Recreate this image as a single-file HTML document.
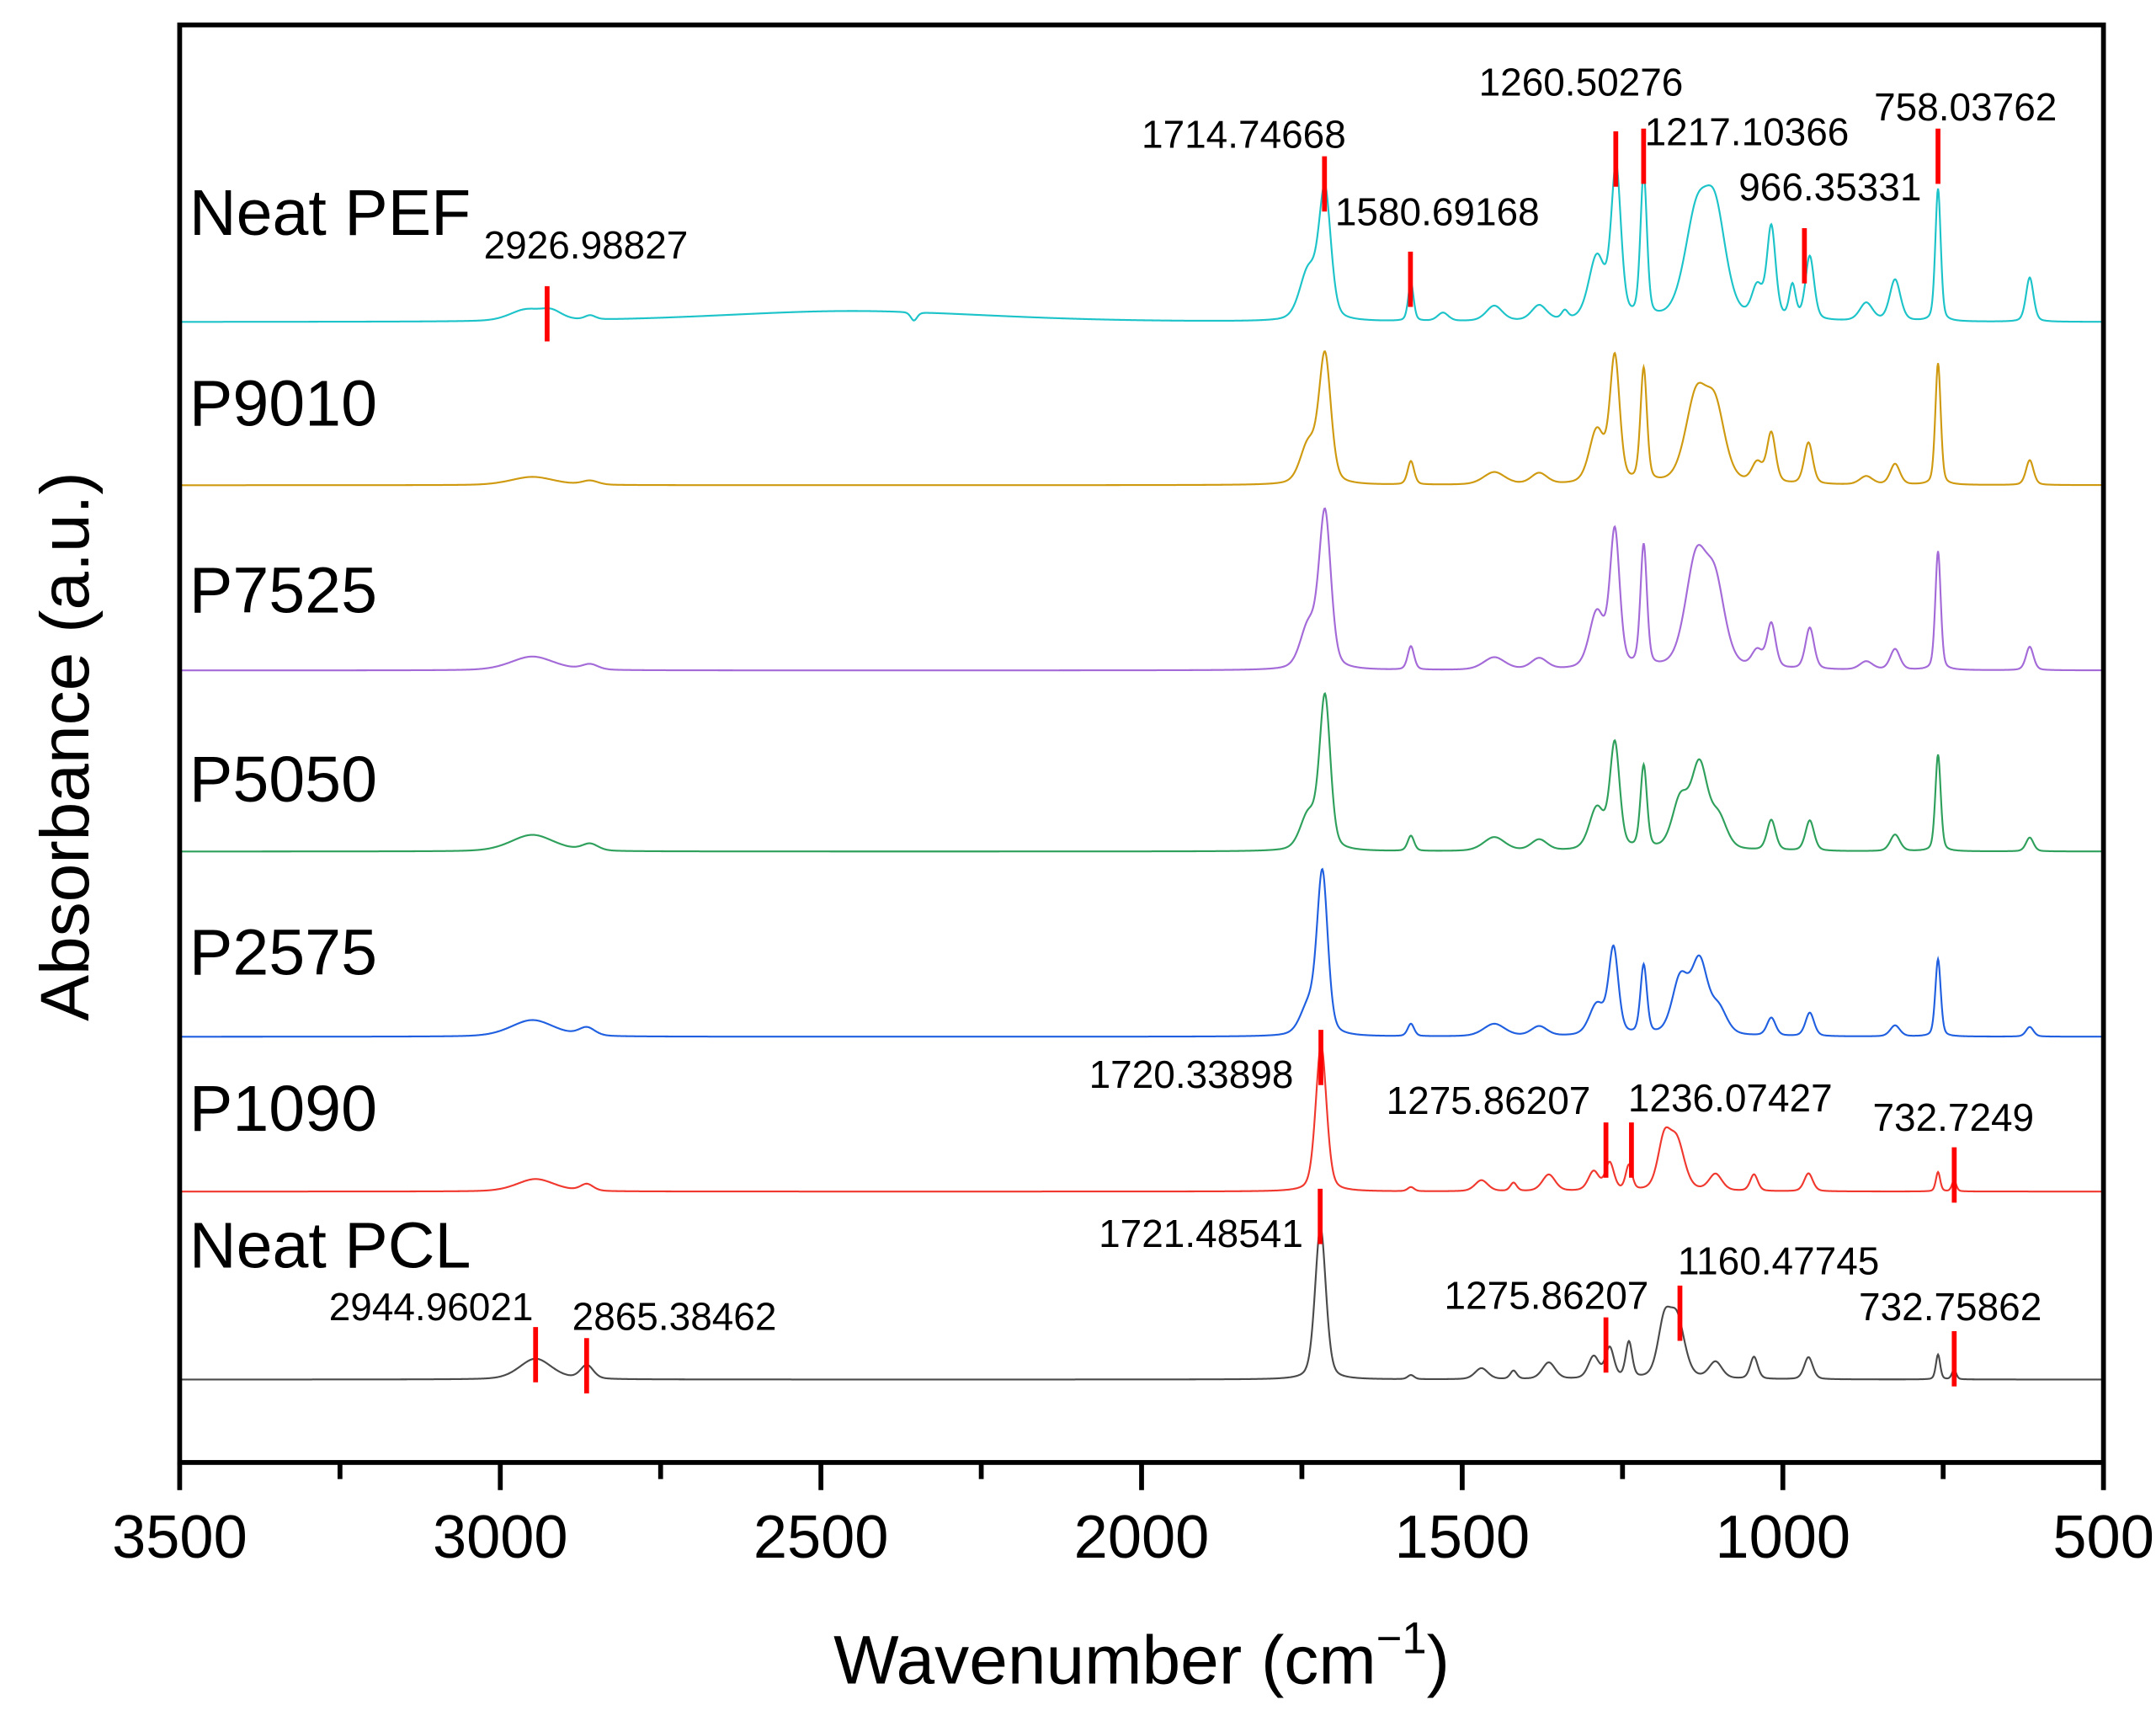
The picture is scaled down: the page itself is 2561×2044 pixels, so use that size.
<!DOCTYPE html>
<html><head><meta charset="utf-8">
<style>
html,body{margin:0;padding:0;background:#fff;}
svg{display:block;}
text{font-family:"Liberation Sans",Arial,sans-serif;fill:#000;}
</style></head>
<body>
<svg id="chart" width="2561" height="2044" viewBox="0 0 1560 1245" xmlns="http://www.w3.org/2000/svg">
<g id="traces"></g>
<g id="markers"></g>
<rect x="130" y="18" width="1392" height="1040" fill="none" stroke="#000" stroke-width="3.5"/>
<g id="xaxis"></g>
<g id="labels"></g>
<text x="826" y="1218" font-size="50" text-anchor="middle">Wavenumber (cm<tspan font-size="32" dy="-22">−1</tspan><tspan dy="22">)</tspan></text>
<text x="0" y="0" font-size="50" text-anchor="middle" transform="translate(64,540) rotate(-90)">Absorbance (a.u.)</text>
</svg>
<script>
const xTicks = [3500, 3000, 2500, 2000, 1500, 1000, 500];
const seriesNames = ["Neat PEF", "P9010", "P7525", "P5050", "P2575", "P1090", "Neat PCL"];
const seriesColors = ["#1cc3c9", "#cf9a10", "#a36ad8", "#2ea05c", "#2060e0", "#f0382e", "#4a4a4a"];
const baselines = [233, 351, 485, 616, 750, 862, 998];
const labelY = [170, 308, 443, 580, 705, 818, 917];

const pefCenters = [2960, 2920, 2860, 2450, 2355, 1740, 1714, 1580, 1530, 1450, 1380, 1340, 1290, 1260, 1217, 1135, 1105, 1040, 1018, 985, 958, 870, 825, 758, 615];
const pefHeights = [8, 6, 3, 8, -6, 35, 92, 28, 6, 11, 11, 6, 45, 108, 104, 72, 70, 22, 66, 24, 46, 13, 30, 96, 32];
const pefWidths = [30, 20, 10, 250, 6, 16, 11, 5, 10, 15, 14, 6, 15, 9, 6, 22, 20, 10, 8, 6, 8, 12, 10, 5, 7];

const p9010Centers = [2950, 2860, 1740, 1714, 1580, 1450, 1380, 1290, 1262, 1217, 1135, 1105, 1040, 1018, 960, 870, 825, 758, 615];
const p9010Heights = [6, 3, 28, 92, 17, 9, 8, 38, 90, 82, 62, 50, 14, 36, 30, 6, 15, 88, 18];
const p9010Widths = [40, 15, 15, 11, 6, 20, 15, 14, 9, 6, 20, 18, 10, 8, 8, 12, 9, 5, 7];

const p7525Centers = [2950, 2860, 1740, 1714, 1580, 1450, 1380, 1290, 1262, 1217, 1135, 1105, 1040, 1018, 958, 870, 825, 758, 615];
const p7525Heights = [10, 4, 30, 112, 17, 9, 8, 40, 98, 88, 78, 55, 12, 32, 30, 6, 15, 86, 17];
const p7525Widths = [40, 15, 15, 11, 6, 20, 15, 14, 9, 6, 20, 18, 10, 8, 8, 12, 9, 5, 7];

const p5050Centers = [2950, 2860, 1740, 1714, 1580, 1450, 1380, 1290, 1262, 1217, 1160, 1130, 1100, 1018, 958, 825, 758, 615];
const p5050Heights = [12, 5, 25, 110, 11, 10, 8, 30, 76, 60, 35, 60, 22, 22, 22, 12, 70, 10];
const p5050Widths = [40, 15, 15, 10, 6, 20, 15, 14, 9, 6, 15, 15, 15, 8, 8, 9, 5, 7];

const p2575Centers = [2950, 2865, 1740, 1718, 1580, 1450, 1380, 1290, 1264, 1217, 1160, 1130, 1100, 1018, 958, 825, 758, 615];
const p2575Heights = [12, 6, 20, 116, 9, 9, 7, 22, 62, 50, 40, 52, 18, 13, 17, 8, 56, 7];
const p2575Widths = [40, 15, 15, 10, 6, 20, 15, 14, 9, 6, 15, 15, 15, 8, 8, 9, 5, 7];

const p1090Centers = [2945, 2865, 1720, 1580, 1470, 1420, 1365, 1295, 1270, 1240, 1185, 1165, 1105, 1045, 960, 758, 733];
const p1090Heights = [9, 5, 106, 3, 8, 6, 12, 14, 20, 18, 35, 34, 12, 12, 13, 14, 8];
const p1090Widths = [35, 12, 10, 6, 12, 6, 12, 10, 8, 6, 12, 14, 12, 7, 8, 4, 4];

const pclCenters = [2945, 2865, 1721, 1580, 1470, 1420, 1365, 1295, 1270, 1240, 1185, 1165, 1105, 1045, 960, 758, 733];
const pclHeights = [15, 10, 110, 3, 8, 6, 12, 16, 22, 26, 38, 42, 12, 16, 16, 18, 7];
const pclWidths = [30, 12, 10, 6, 12, 6, 12, 10, 8, 6, 12, 14, 12, 7, 8, 4, 4];

const peakCenters = [pefCenters, p9010Centers, p7525Centers, p5050Centers, p2575Centers, p1090Centers, pclCenters];
const peakHeights = [pefHeights, p9010Heights, p7525Heights, p5050Heights, p2575Heights, p1090Heights, pclHeights];
const peakWidths = [pefWidths, p9010Widths, p7525Widths, p5050Widths, p2575Widths, p1090Widths, pclWidths];

const annLabels = ["2926.98827","1714.74668","1580.69168","1260.50276","1217.10366","966.35331","758.03762","1720.33898","1275.86207","1236.07427","732.7249","1721.48541","2944.96021","2865.38462","1275.86207","1160.47745","732.75862"];
const annWavenumbers = [2926.99,1714.75,1580.69,1260.50,1217.10,966.35,758.04,1720.34,1275.86,1236.07,732.72,1721.49,2944.96,2865.38,1275.86,1160.48,732.76];
const annMarkTop = [207,113,182,95,93,165,93,745,812,812,830,860,960,968,953,930,963];
const annTextX = [350,826,966,1070,1190,1258,1356,788,1003,1178,1355,795,238,414,1045,1214,1345];
const annTextY = [187,107,163,69,105,145,87,787,806,804,818,902,955,962,947,922,955];

const NS = "http://www.w3.org/2000/svg";
const L = 130, R = 1522, B = 1058;
function xScale(wn){ return L + (3500 - wn) / 3000 * (R - L); }
function yScale(base, v){ return base - v; }

const traces = document.getElementById('traces');
seriesNames.forEach((name, s) => {
  let d = "";
  for (let wn = 3500; wn >= 500; wn -= 1) {
    let v = 0;
    const cs = peakCenters[s], hs = peakHeights[s], ws = peakWidths[s];
    for (let k = 0; k < cs.length; k++) {
      const t = (wn - cs[k]) / ws[k];
      v += hs[k] * (0.35 / (1 + t * t) + 0.65 * Math.exp(-0.693 * t * t));
    }
    d += (wn === 3500 ? "M" : "L") + xScale(wn).toFixed(2) + "," + yScale(baselines[s], v).toFixed(2);
  }
  const p = document.createElementNS(NS, 'path');
  p.setAttribute('d', d);
  p.setAttribute('fill', 'none');
  p.setAttribute('stroke', seriesColors[s]);
  p.setAttribute('stroke-width', '1.3');
  
  
  traces.appendChild(p);

  const t = document.createElementNS(NS, 'text');
  t.setAttribute('x', 137);
  t.setAttribute('y', labelY[s]);
  t.setAttribute('font-size', '47');
  t.textContent = name;
  
  
  document.getElementById('labels').appendChild(t);
});

const markers = document.getElementById('markers');
annLabels.forEach((lab, i) => {
  const x = xScale(annWavenumbers[i]);
  const ln = document.createElementNS(NS, 'line');
  ln.setAttribute('x1', x); ln.setAttribute('x2', x);
  ln.setAttribute('y1', annMarkTop[i]); ln.setAttribute('y2', annMarkTop[i] + 40);
  ln.setAttribute('stroke', '#f00'); ln.setAttribute('stroke-width', '3.5');
  
  
  markers.appendChild(ln);
  const t = document.createElementNS(NS, 'text');
  t.setAttribute('x', annTextX[i]); t.setAttribute('y', annTextY[i]);
  t.setAttribute('font-size', '28');
  t.textContent = lab;
  
  
  markers.appendChild(t);
});

const xaxis = document.getElementById('xaxis');
for (let wn = 3500; wn >= 500; wn -= 250) {
  const major = wn % 500 === 0;
  const x = xScale(wn);
  const tk = document.createElementNS(NS, 'line');
  tk.setAttribute('x1', x); tk.setAttribute('x2', x);
  tk.setAttribute('y1', B); tk.setAttribute('y2', B + (major ? 20 : 12));
  tk.setAttribute('stroke', '#000'); tk.setAttribute('stroke-width', '3.5');
  
  
  xaxis.appendChild(tk);
}
xTicks.forEach(v => {
  const t = document.createElementNS(NS, 'text');
  t.setAttribute('x', xScale(v)); t.setAttribute('y', 1127);
  t.setAttribute('font-size', '44'); t.setAttribute('text-anchor', 'middle');
  t.textContent = v;
  
  
  xaxis.appendChild(t);
});
</script>
</body></html>
